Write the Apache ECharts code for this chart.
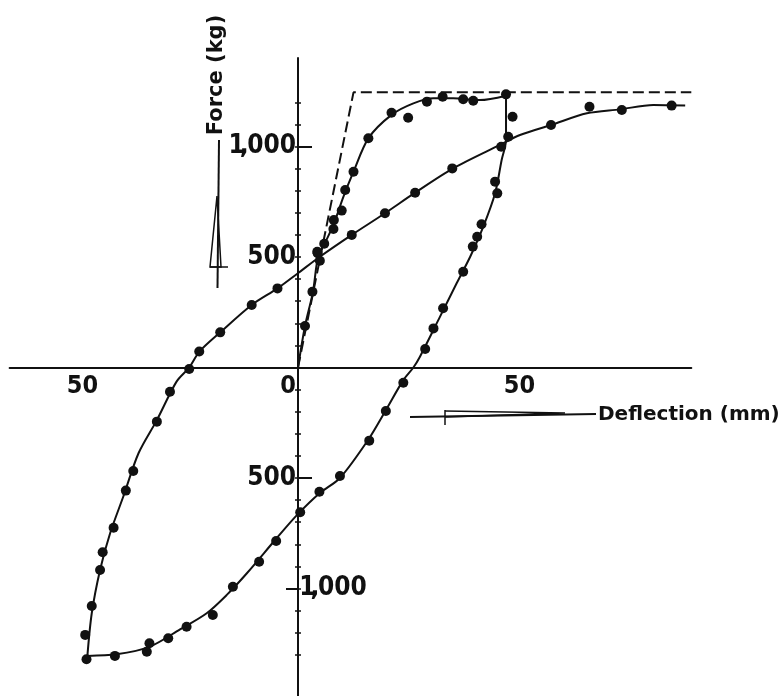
<!DOCTYPE html>
<html><head><meta charset="utf-8">
<script src="https://cdn.jsdelivr.net/npm/echarts@6/dist/echarts.min.js"></script>
<style>html,body{margin:0;padding:0;background:#fff;} #c{width:784px;height:696px;}</style>
</head><body><div id="c"></div>
<script>
// ---- Idealised elasto-plastic (dashed) ----
const idealX = [0, 12.7, 90];
const idealY = [0, 1245, 1245];

// ---- Virgin loading branch ----
const loadLineX = [0, 1.6, 3.4, 4.6, 6.2, 8.1, 10.4, 12.7, 16.1, 21.4, 26.4, 31.0, 35.5, 41.6, 47.6];
const loadLineY = [0, 188, 340, 501, 565, 645, 773, 886, 1037, 1143, 1195, 1218, 1218, 1210, 1230];
const loadDotX = [1.6, 3.3, 4.5, 5.0, 6.0, 8.1, 8.2, 10.0, 10.8, 12.7, 16.1, 21.4, 25.2, 29.5, 33.1, 37.8, 40.1, 47.6];
const loadDotY = [188, 343, 517, 483, 560, 627, 667, 710, 803, 886, 1037, 1153, 1130, 1203, 1225, 1214, 1207, 1236];

// ---- Unloading / reverse loading branch ----
const unloadLineX = [47.6, 47.6, 46.6, 45.1, 42.4, 39.4, 36.3, 32.5, 27.9, 26.4, 24.1, 20.1, 16.0, 9.6, 5.0, -0.2, -5.0, -11.7, -16.3, -20.9, -27.0, -33.9, -41.5, -48.2];
const unloadLineY = [1230, 1029, 939, 788, 637, 501, 381, 230, 49, 0, -57, -193, -329, -500, -568, -667, -775, -931, -1029, -1112, -1185, -1263, -1298, -1305];
const unloadDotX = [49.1, 45.1, 45.6, 42.0, 41.0, 40.0, 37.8, 33.2, 31.0, 29.1, 24.1, 20.1, 16.3, 9.6, 4.9, 0.5, -5.0, -8.9, -14.9, -19.5, -25.5, -29.7, -34.0, -34.6, -41.9, -48.4];
const unloadDotY = [1135, 841, 788, 648, 592, 547, 433, 268, 177, 84, -69, -197, -331, -491, -562, -655, -785, -879, -992, -1120, -1173, -1225, -1248, -1286, -1305, -1320];

// ---- Reloading branch ----
const reloadLineX = [-48.2, -47.2, -45.3, -43.0, -40.0, -36.5, -32.3, -27.8, -24.9, -22.6, -17.8, -10.6, -4.7, 0.2, 5.0, 12.3, 19.9, 26.8, 35.5, 46.2, 50.8, 57.9, 66.1, 73.7, 81.3, 88.6];
const reloadLineY = [-1305, -1112, -916, -750, -585, -388, -238, -64, 0, 71, 159, 283, 358, 430, 501, 600, 698, 791, 901, 1007, 1052, 1097, 1150, 1168, 1188, 1185];
const reloadDotX = [-48.7, -47.2, -45.3, -44.7, -42.2, -39.4, -37.7, -32.3, -29.3, -24.9, -22.6, -17.8, -10.6, -4.7, 4.4, 12.3, 19.9, 26.8, 35.3, 46.5, 48.1, 57.9, 66.7, 74.1, 85.5];
const reloadDotY = [-1210, -1079, -916, -836, -725, -557, -468, -245, -110, -7, 72, 159, 283, 358, 524, 600, 698, 791, 901, 999, 1044, 1097, 1180, 1165, 1185];

// ---- Axis ticks / labels ----
const xLabelValues = [-50, 0, 50];
const yTickValues = [-1300, -1200, -1100, -1000, -900, -800, -700, -600, -500, -400, -300, -200, -100,
                     100, 200, 300, 400, 500, 600, 700, 800, 900, 1000, 1100, 1200];
const yLabelLeft = [500, 1000, -500];
const yLabelRight = [-1000];
const yLongTickRight = [1000, -500];
const yLongTickLeft = [-1000];
const xTitle = 'Deflection (mm)';
const yTitle = 'Force (kg)';

function pairs(xs, ys) { return xs.map((x, i) => [x, ys[i]]); }
// "1,000" is drawn with a narrow "1," as in the hand lettering
function yLabelText(v) {
  const s = Math.abs(v).toLocaleString('en-US');
  if (s.indexOf(',') < 0) return s;
  const [head, tail] = s.split(',');
  return '{o|' + head + '}{c|,}{z|' + tail + '}';
}

const FONT = '"DejaVu Sans", sans-serif';
const TICKFONT = '"DejaVu Sans Condensed", "DejaVu Sans", sans-serif';
const INK = '#111';
const GRID = { left: 9.6, top: 58.1, width: 681.7, height: 640.9 };
const XMIN = -66, XMAX = 90, YMIN = -1500, YMAX = 1400;
const zeroX = GRID.left + (0 - XMIN) / (XMAX - XMIN) * GRID.width;
const zeroY = GRID.top + (YMAX - 0) / (YMAX - YMIN) * GRID.height;

const chart = echarts.init(document.getElementById('c'), null, { renderer: 'canvas' });

const yBase = { type: 'value', min: YMIN, max: YMAX, interval: 100, splitLine: { show: false } };
const noLine = { show: false, onZero: true, onZeroAxisIndex: 0 };
const fontBase = { color: INK, fontFamily: TICKFONT, fontWeight: 'bold' };
const labelFont = Object.assign({ fontSize: 26 }, fontBase);
const yRich = {
  o: Object.assign({ fontSize: 26, width: 9, align: 'center' }, fontBase),
  c: Object.assign({ fontSize: 26, width: 6, align: 'center' }, fontBase),
  z: Object.assign({ fontSize: 26 }, fontBase)
};

const lineStyle = { color: INK, width: 2 };
function curve(xs, ys) {
  return { type: 'line', data: pairs(xs, ys), showSymbol: false, symbol: 'none', smooth: 0.3,
           lineStyle: lineStyle, z: 2, silent: true };
}
function dots(xs, ys) {
  return { type: 'scatter', data: pairs(xs, ys), symbol: 'circle', symbolSize: 10,
           itemStyle: { color: INK, opacity: 1 }, z: 3, silent: true };
}

chart.setOption({
  animation: false,
  backgroundColor: '#ffffff',
  grid: Object.assign({ containLabel: false, outerBoundsMode: 'none' }, GRID),
  xAxis: [
    {
      type: 'value', min: XMIN, max: XMAX, position: 'bottom',
      axisLine: { onZero: true, lineStyle: { color: INK, width: 2 } },
      axisTick: { show: false }, splitLine: { show: false }, axisLabel: { show: false }
    },
    {
      type: 'value', min: XMIN, max: XMAX, position: 'bottom',
      offset: zeroY - (GRID.top + GRID.height),
      axisLine: { show: false, onZero: false }, axisTick: { show: false }, splitLine: { show: false },
      axisLabel: Object.assign({
        customValues: xLabelValues, margin: 6, fontSize: 25,
        formatter: v => v === 0 ? '{z|0}' : '{f|' + Math.abs(v) + '}',
        rich: {
          z: Object.assign({ padding: [0, 20, 0, 0], fontSize: 25 }, fontBase),
          f: Object.assign({ padding: [0, 0, 0, 6], fontSize: 25 }, fontBase)
        }
      }, fontBase)
    }
  ],
  yAxis: [
    Object.assign({}, yBase, {
      position: 'left',
      axisLine: { show: true, onZero: true, onZeroAxisIndex: 0, lineStyle: { color: INK, width: 2 } },
      axisTick: { show: true, customValues: yTickValues, length: 3, lineStyle: { color: INK, width: 1.5 } },
      axisLabel: { show: false }
    }),
    Object.assign({}, yBase, {
      position: 'right', axisLine: noLine,
      axisTick: { show: true, customValues: yTickValues, length: 3, lineStyle: { color: INK, width: 1.5 } },
      axisLabel: { show: false }
    }),
    Object.assign({}, yBase, {
      position: 'right', axisLine: noLine,
      axisTick: { show: true, customValues: yLongTickRight, length: 14, lineStyle: { color: INK, width: 2 } },
      axisLabel: { show: false }
    }),
    Object.assign({}, yBase, {
      position: 'left', axisLine: noLine,
      axisTick: { show: true, customValues: yLongTickLeft, length: 12, lineStyle: { color: INK, width: 2 } },
      axisLabel: { show: false }
    }),
    Object.assign({}, yBase, {
      position: 'left', offset: GRID.left - zeroX,
      axisLine: { show: false, onZero: false }, axisTick: { show: false },
      axisLabel: Object.assign({ customValues: yLabelLeft, formatter: yLabelText, margin: 2, rich: yRich }, labelFont)
    }),
    Object.assign({}, yBase, {
      position: 'right', offset: zeroX - (GRID.left + GRID.width),
      axisLine: { show: false, onZero: false }, axisTick: { show: false },
      axisLabel: Object.assign({ customValues: yLabelRight, formatter: yLabelText, margin: 5, rich: yRich }, labelFont)
    })
  ],
  series: [
    { type: 'line', data: pairs(idealX, idealY), showSymbol: false, symbol: 'none',
      lineStyle: { color: INK, width: 2, type: [11, 5] }, z: 1, silent: true },
    curve(loadLineX, loadLineY),
    curve(unloadLineX, unloadLineY),
    curve(reloadLineX, reloadLineY),
    dots(loadDotX, loadDotY),
    dots(unloadDotX, unloadDotY),
    dots(reloadDotX, reloadDotY)
  ],
  graphic: [
    { type: 'text', x: 217, y: 75, rotation: Math.PI / 2,
      style: { text: yTitle, fontFamily: FONT, fontSize: 21, fontWeight: 'bold', fill: INK,
               align: 'center', verticalAlign: 'middle' } },
    { type: 'text', x: 598, y: 415,
      style: { text: xTitle, fontFamily: FONT, fontSize: 20, fontWeight: 'bold', fill: INK,
               align: 'left', verticalAlign: 'middle' } },
    // hand-drawn arrow beside the Force title
    { type: 'polyline', shape: { points: [[219, 140], [217.5, 288]] }, style: { stroke: INK, lineWidth: 2, fill: null } },
    { type: 'polyline', shape: { points: [[217, 196], [210, 267], [221, 267], [217, 196]] }, style: { stroke: INK, lineWidth: 1.5, fill: null } },
    { type: 'polyline', shape: { points: [[210, 267], [228, 267]] }, style: { stroke: INK, lineWidth: 1.5, fill: null } },
    // hand-drawn arrow beside the Deflection title
    { type: 'polyline', shape: { points: [[410, 417], [596, 414]] }, style: { stroke: INK, lineWidth: 2, fill: null } },
    { type: 'polyline', shape: { points: [[445, 411], [565, 413], [445, 417]] }, style: { stroke: INK, lineWidth: 1.5, fill: null } },
    { type: 'polyline', shape: { points: [[445, 410], [445, 425]] }, style: { stroke: INK, lineWidth: 1.5, fill: null } }
  ]
});
</script>
</body></html>
